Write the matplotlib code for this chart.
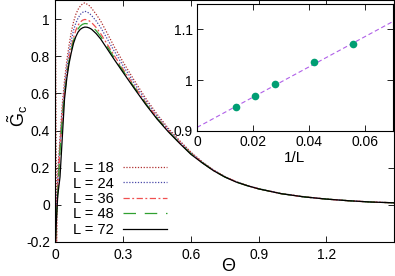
import numpy as np
import matplotlib
matplotlib.use("Agg")
import matplotlib.pyplot as plt
from matplotlib.ticker import FormatStrFormatter

plt.rcParams['font.family'] = ['Liberation Sans', 'DejaVu Sans']
plt.rcParams['font.size'] = 10
plt.rcParams['mathtext.fontset'] = 'custom'
plt.rcParams['mathtext.rm'] = 'Liberation Sans'
plt.rcParams['mathtext.it'] = 'Liberation Sans'

# main panel data
sizes = [18, 24, 36, 48, 72]
theta = [0, 0.005, 0.01, 0.02, 0.03, 0.04, 0.05, 0.06, 0.07, 0.08, 0.09, 0.10,
         0.11, 0.12, 0.13, 0.14, 0.15, 0.16, 0.18, 0.20, 0.23, 0.26, 0.30, 0.35,
         0.40, 0.45, 0.50, 0.55, 0.60, 0.65, 0.70, 0.75, 0.80, 0.85, 0.90, 1.00,
         1.10, 1.20, 1.30, 1.40, 1.50]
g_18 = [1.0, -0.2, 0.18, 0.36, 0.54, 0.67, 0.775, 0.86, 0.93, 0.985, 1.025, 1.052,
        1.07, 1.082, 1.087, 1.08, 1.072, 1.058, 1.026, 0.99, 0.922, 0.852, 0.768, 0.668,
        0.573, 0.488, 0.412, 0.346, 0.284, 0.232, 0.188, 0.153, 0.125, 0.104, 0.087, 0.061,
        0.044, 0.031, 0.022, 0.015, 0.011]
g_24 = [-0.2, 0.02, 0.12, 0.33, 0.50, 0.63, 0.74, 0.82, 0.885, 0.94, 0.978, 1.005,
        1.025, 1.036, 1.042, 1.038, 1.031, 1.019, 0.99, 0.955, 0.892, 0.828, 0.748, 0.652,
        0.561, 0.478, 0.405, 0.340, 0.280, 0.230, 0.187, 0.152, 0.124, 0.104, 0.087, 0.061,
        0.043, 0.031, 0.022, 0.015, 0.011]
g_36 = [-0.2, -0.04, 0.08, 0.30, 0.47, 0.60, 0.70, 0.785, 0.85, 0.90, 0.94, 0.967,
        0.984, 0.994, 0.998, 0.996, 0.990, 0.981, 0.955, 0.922, 0.863, 0.804, 0.729, 0.638,
        0.550, 0.470, 0.399, 0.335, 0.277, 0.228, 0.185, 0.151, 0.124, 0.103, 0.086, 0.060,
        0.043, 0.031, 0.022, 0.015, 0.011]
g_48 = [-0.19, -0.05, 0.06, 0.29, 0.46, 0.59, 0.69, 0.775, 0.835, 0.885, 0.922, 0.947,
        0.963, 0.972, 0.976, 0.975, 0.970, 0.962, 0.938, 0.907, 0.850, 0.793, 0.720, 0.631,
        0.545, 0.466, 0.396, 0.333, 0.275, 0.227, 0.185, 0.150, 0.123, 0.103, 0.086, 0.060,
        0.043, 0.031, 0.022, 0.015, 0.011]
g_72 = [-0.19, -0.06, 0.05, 0.15, 0.36, 0.57, 0.68, 0.76, 0.82, 0.87, 0.905, 0.93,
        0.945, 0.953, 0.957, 0.956, 0.952, 0.945, 0.922, 0.893, 0.838, 0.783, 0.712, 0.625,
        0.540, 0.462, 0.393, 0.331, 0.272, 0.226, 0.184, 0.150, 0.123, 0.103, 0.086, 0.060,
        0.043, 0.031, 0.022, 0.015, 0.011]

# inset data
peak_g = [1.071, 1.036, 0.993, 0.969, 0.947]
fit_a, fit_b = 0.907, 2.98

series = [g_18, g_24, g_36, g_48, g_72]
colors = ['#b03030', '#4848a8', '#f05050', '#30a030', '#000000']
styles = [(0, (1, 1.3)), (0, (1, 1.3)), (0, (5, 2, 1.5, 2)), (0, (10, 7)), '-']

fig = plt.figure(figsize=(3.95, 2.76), dpi=100)
ax = fig.add_axes([0.1405, 0.1232, 0.857, 0.875])

for L, g, c, ls in zip(sizes, series, colors, styles):
    ax.plot(theta, g, color=c, ls=ls, lw=0.9, label='L = %d' % L)

ax.set_xlim(0, 1.5)
ax.set_ylim(-0.2, 1.1)
ax.set_xticks([0, 0.3, 0.6, 0.9, 1.2])
ax.set_yticks([-0.2, 0, 0.2, 0.4, 0.6, 0.8, 1])
ax.xaxis.set_major_formatter(FormatStrFormatter('%g'))
ax.yaxis.set_major_formatter(FormatStrFormatter('%g'))
ax.tick_params(direction='in', top=True, right=True, length=4, width=0.6, pad=4)
for s in ax.spines.values():
    s.set_linewidth(0.8)
ax.set_xlabel('Θ', fontsize=13, labelpad=0)
ax.xaxis.set_label_coords(0.51, -0.066)
ax.set_ylabel(r'$\tilde{G}_c$', fontsize=13, labelpad=0)
ax.yaxis.set_label_coords(-0.075, 0.52)

ax.legend(loc='upper left', bbox_to_anchor=(0.053, 0.335), frameon=False,
          markerfirst=False, handlelength=3.0, handletextpad=0.6,
          labelspacing=0.1, borderpad=0, borderaxespad=0, fontsize=10.5)

# inset
ins = fig.add_axes([0.4987, 0.5254, 0.4962, 0.4601])
inv_L = [1.0 / L for L in sizes]
xs = np.array([0, 0.07])
ins.plot(xs, fit_a + fit_b * xs, color='#b060e8', ls=(0, (4, 2.5)), lw=0.8)
ins.plot(inv_L, peak_g, 'o', color='#009e73', ms=5.5, mec='none')
ins.set_xlim(0, 0.07)
ins.set_ylim(0.9, 1.15)
ins.set_xticks([0, 0.02, 0.04, 0.06])
ins.set_yticks([0.9, 1, 1.1])
ins.xaxis.set_major_formatter(FormatStrFormatter('%g'))
ins.yaxis.set_major_formatter(FormatStrFormatter('%g'))
ins.tick_params(direction='in', top=True, right=True, length=4, width=0.6, pad=3)
for s in ins.spines.values():
    s.set_linewidth(0.8)
ins.set_xlabel('1/L', fontsize=11, labelpad=1)

fig.savefig('out.png', dpi=100)
